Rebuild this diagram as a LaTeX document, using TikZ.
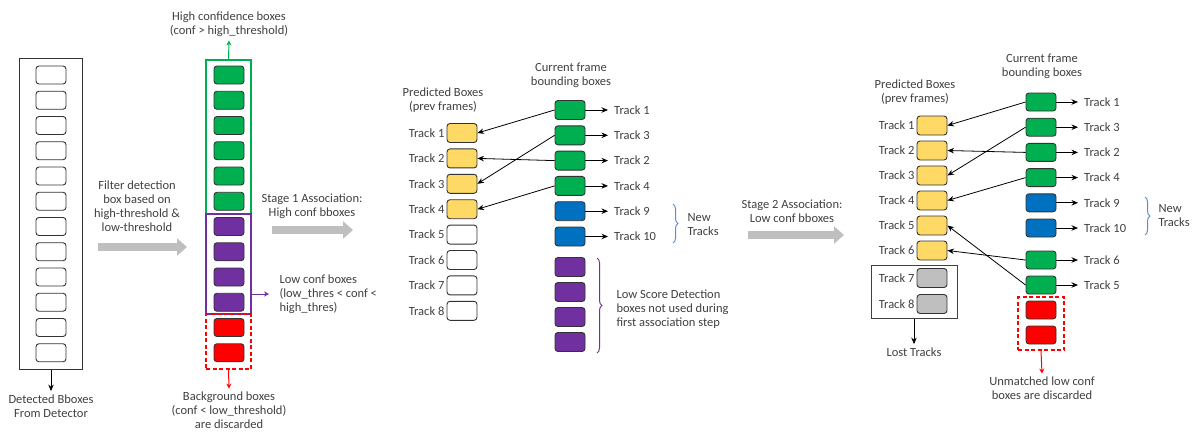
\documentclass[tikz,border=0pt]{standalone}
\usepackage{fontspec}
\setmainfont{Carlito}
\usepackage{xcolor}
\usepackage{tikz}
\usetikzlibrary{arrows.meta,positioning,fit,decorations.pathreplacing}
\definecolor{ogreen}{RGB}{0,176,80}
\definecolor{opurple}{RGB}{112,48,160}
\definecolor{oblue}{RGB}{0,112,192}
\definecolor{oyellow}{RGB}{255,217,102}
\definecolor{ogray}{RGB}{191,191,191}
\definecolor{ored}{RGB}{255,0,0}
\definecolor{braceblue}{RGB}{91,140,210}
\definecolor{txtgray}{RGB}{64,64,64}

\begin{document}
\begin{tikzpicture}[
  x=1pt, y=-1pt,
  font=\fontsize{12.5}{14}\selectfont, text=txtgray,
  bx/.style={rectangle, rounded corners=3pt, draw=black!80, line width=0.9pt,
             minimum width=30pt, minimum height=18pt, inner sep=0pt},
  wbox/.style={bx, fill=white},
  gbox/.style={bx, fill=ogreen},
  pbox/.style={bx, fill=opurple},
  rbox/.style={bx, fill=ored},
  bbox/.style={bx, fill=oblue},
  ybox/.style={bx, fill=oyellow, minimum height=19pt},
  sbox/.style={bx, fill=ogray, minimum height=19pt},
  grp/.style={rectangle, line width=1.2pt, inner sep=0pt},
  txt/.style={align=center},
  lbl/.style={inner sep=2pt},
  arr/.style={-{Stealth[length=6.5pt,width=5.5pt]}, line width=0.8pt, black},
  garr/.style={-{Stealth[length=5pt,width=5pt]}, line width=1pt, ogreen},
  parr/.style={-{Stealth[length=5pt,width=5pt]}, line width=1pt, opurple},
  rarr/.style={-{Stealth[length=5pt,width=5pt]}, line width=1pt, ored},
  bigarr/.style={-{Triangle[length=10pt,width=17pt]}, line width=7.5pt, ogray},
  brc/.style={decorate, decoration={brace, amplitude=5pt}, line width=1pt}
]
\useasboundingbox (0,0) rectangle (1194,432);

% detections from detector
\node[wbox] (d1) at (51,75) {}; \node[wbox] (d2) at (51,100.25) {};
\node[wbox] (d3) at (51,125.5) {}; \node[wbox] (d4) at (51,150.75) {};
\node[wbox] (d5) at (51,176) {}; \node[wbox] (d6) at (51,201.25) {};
\node[wbox] (d7) at (51,226.5) {}; \node[wbox] (d8) at (51,251.75) {};
\node[wbox] (d9) at (51,277) {}; \node[wbox] (d10) at (51,302.25) {};
\node[wbox] (d11) at (51,327.5) {}; \node[wbox] (d12) at (51,352.75) {};
\node[grp, draw=black!80, fit=(d1)(d12), inner xsep=16pt, inner ysep=7pt] (det) {};
\node[txt] (detlbl) at (51,406) {Detected Bboxes\\From Detector};
\draw[arr] (det.south)--(detlbl.north);

\node[txt] (filt) at (137,206.5) {Filter detection\\box based on\\high-threshold \&\\low-threshold};
\coordinate (fa) at (98,247); \coordinate (fb) at (187,247);
\draw[bigarr] (fa)--(fb);

% split by confidence
\node[gbox] (c1) at (229,75) {}; \node[gbox] (c2) at (229,100.25) {};
\node[gbox] (c3) at (229,125.5) {}; \node[gbox] (c4) at (229,150.75) {};
\node[gbox] (c5) at (229,176) {}; \node[gbox] (c6) at (229,201.25) {};
\node[pbox] (c7) at (229,226.5) {}; \node[pbox] (c8) at (229,251.75) {};
\node[pbox] (c9) at (229,277) {}; \node[pbox] (c10) at (229,302.25) {};
\node[rbox] (c11) at (229,327.5) {}; \node[rbox] (c12) at (229,352.75) {};
\node[grp, draw=ogreen, minimum width=45pt, minimum height=154pt] (hi) at (228.5,137) {};
\node[grp, draw=opurple, minimum width=45pt, minimum height=100pt] (lo) at (228.5,264) {};
\node[grp, draw=ored, dash pattern=on 4pt off 2.5pt, minimum width=45pt, minimum height=55pt] (bg) at (228.5,341.5) {};
\node[txt] (hilbl) at (229,24.5) {High confidence boxes\\(conf > high\_threshold)};
\node[txt] (bglbl) at (229,410.5) {Background boxes\\(conf < low\_threshold)\\are discarded};
\node[align=left, anchor=west] (lolbl) at (276,294) {Low conf boxes\\(low\_thres < conf <\\high\_thres)};
\draw[garr] (hi.north)--(hilbl.south);
\draw[rarr] (bg.south)--(bglbl.north);
\draw[parr, shorten >=7pt] (lo.east |- lolbl.west)--(lolbl.west);

\node[txt] (st1) at (312,206) {Stage 1 Association:\\High conf bboxes};
\coordinate (sa) at (272,230); \coordinate (sb) at (353,230);
\draw[bigarr] (sa)--(sb);

% stage 1: predicted boxes
\node[txt] (predA) at (443,100) {Predicted Boxes\\(prev frames)};
\node[ybox] (pa1) at (462,133) {}; \node[lbl, left=0pt of pa1] (lpa1) {Track 1};
\node[ybox] (pa2) at (462,158.4) {}; \node[lbl, left=0pt of pa2] (lpa2) {Track 2};
\node[ybox] (pa3) at (462,183.8) {}; \node[lbl, left=0pt of pa3] (lpa3) {Track 3};
\node[ybox] (pa4) at (462,209.2) {}; \node[lbl, left=0pt of pa4] (lpa4) {Track 4};
\node[wbox, minimum height=19pt] (pa5) at (462,234.6) {}; \node[lbl, left=0pt of pa5] (lpa5) {Track 5};
\node[wbox, minimum height=19pt] (pa6) at (462,260) {}; \node[lbl, left=0pt of pa6] (lpa6) {Track 6};
\node[wbox, minimum height=19pt] (pa7) at (462,285.4) {}; \node[lbl, left=0pt of pa7] (lpa7) {Track 7};
\node[wbox, minimum height=19pt] (pa8) at (462,310.8) {}; \node[lbl, left=0pt of pa8] (lpa8) {Track 8};

% stage 1: current frame boxes
\node[txt] (curA) at (571,75) {Current frame\\bounding boxes};
\node[gbox, minimum height=19pt] (na1) at (570,110) {};
\node[gbox, minimum height=19pt] (na2) at (570,135.3) {};
\node[gbox, minimum height=19pt] (na3) at (570,160.6) {};
\node[gbox, minimum height=19pt] (na4) at (570,185.9) {};
\node[bbox, minimum height=19pt] (na5) at (570,211.2) {};
\node[bbox, minimum height=19pt] (na6) at (570,236.5) {};
\node[pbox, minimum height=19pt] (na7) at (570,267) {};
\node[pbox, minimum height=19pt] (na8) at (570,292) {};
\node[pbox, minimum height=19pt] (na9) at (570,317) {};
\node[pbox, minimum height=19pt] (na10) at (570,342) {};
\node[lbl, anchor=west] (rna1) at (612,110) {Track 1};
\node[lbl, anchor=west] (rna2) at (612,135.3) {Track 3};
\node[lbl, anchor=west] (rna3) at (612,160.6) {Track 2};
\node[lbl, anchor=west] (rna4) at (612,185.9) {Track 4};
\node[lbl, anchor=west] (rna5) at (612,211.2) {Track 9};
\node[lbl, anchor=west] (rna6) at (612,236.5) {Track 10};
\draw[arr, shorten >=4pt] (na1.east)--(rna1.west); \draw[arr, shorten >=4pt] (na2.east)--(rna2.west);
\draw[arr, shorten >=4pt] (na3.east)--(rna3.west); \draw[arr, shorten >=4pt] (na4.east)--(rna4.west);
\draw[arr, shorten >=4pt] (na5.east)--(rna5.west); \draw[arr, shorten >=4pt] (na6.east)--(rna6.west);
\draw[arr] (na1.west)--(pa1.east); \draw[arr] (na2.west)--(pa3.east);
\draw[arr] (na3.west)--(pa2.east); \draw[arr] (na4.west)--(pa4.east);
\coordinate (ba1) at (673,204); \coordinate (ba2) at (673,243);
\draw[brc, braceblue] (ba1)--(ba2);
\node[align=left, anchor=west] (newA) at (684,225) {New\\Tracks};
\coordinate (bp1) at (597,258); \coordinate (bp2) at (597,353);
\draw[brc, opurple] (bp1)--(bp2);
\node[align=left, anchor=west] (lowA) at (613,309) {Low Score Detection\\boxes not used during\\first association step};

\node[txt] (st2) at (792,211) {Stage 2 Association:\\Low conf bboxes};
\coordinate (sc) at (748,235); \coordinate (sd) at (844,235);
\draw[bigarr] (sc)--(sd);

% stage 2: predicted boxes
\node[txt] (predB) at (915,92) {Predicted Boxes\\(prev frames)};
\node[ybox] (pb1) at (932,125.5) {}; \node[lbl, left=0pt of pb1] (lpb1) {Track 1};
\node[ybox] (pb2) at (932,150.5) {}; \node[lbl, left=0pt of pb2] (lpb2) {Track 2};
\node[ybox] (pb3) at (932,175.5) {}; \node[lbl, left=0pt of pb3] (lpb3) {Track 3};
\node[ybox] (pb4) at (932,200.5) {}; \node[lbl, left=0pt of pb4] (lpb4) {Track 4};
\node[ybox] (pb5) at (932,225.5) {}; \node[lbl, left=0pt of pb5] (lpb5) {Track 5};
\node[ybox] (pb6) at (932,250.5) {}; \node[lbl, left=0pt of pb6] (lpb6) {Track 6};
\node[sbox] (pb7) at (932,278) {}; \node[lbl, left=0pt of pb7] (lpb7) {Track 7};
\node[sbox] (pb8) at (932,304) {}; \node[lbl, left=0pt of pb8] (lpb8) {Track 8};
\node[grp, draw=black!75, line width=1pt, minimum width=86pt, minimum height=53pt] (lost) at (914,291.5) {};
\node[txt] (lostlbl) at (914,352) {Lost Tracks};
\draw[arr] (lost.south)--(lostlbl.north);

% stage 2: current frame boxes
\node[txt] (curB) at (1042,66) {Current frame\\bounding boxes};
\node[gbox] (nb1) at (1041,102) {};
\node[gbox] (nb2) at (1041,127.2) {};
\node[gbox] (nb3) at (1041,152.4) {};
\node[gbox] (nb4) at (1041,177.6) {};
\node[bbox] (nb5) at (1041,202.8) {};
\node[bbox] (nb6) at (1041,228) {};
\node[gbox] (nb7) at (1041,260) {};
\node[gbox] (nb8) at (1041,285) {};
\node[rbox] (nb9) at (1041,310) {};
\node[rbox] (nb10) at (1041,335) {};
\node[lbl, anchor=west] (rnb1) at (1082,102) {Track 1};
\node[lbl, anchor=west] (rnb2) at (1082,127.2) {Track 3};
\node[lbl, anchor=west] (rnb3) at (1082,152.4) {Track 2};
\node[lbl, anchor=west] (rnb4) at (1082,177.6) {Track 4};
\node[lbl, anchor=west] (rnb5) at (1082,202.8) {Track 9};
\node[lbl, anchor=west] (rnb6) at (1082,228) {Track 10};
\node[lbl, anchor=west] (rnb7) at (1082,260) {Track 6};
\node[lbl, anchor=west] (rnb8) at (1082,285) {Track 5};
\draw[arr, shorten >=4pt] (nb1.east)--(rnb1.west); \draw[arr, shorten >=4pt] (nb2.east)--(rnb2.west);
\draw[arr, shorten >=4pt] (nb3.east)--(rnb3.west); \draw[arr, shorten >=4pt] (nb4.east)--(rnb4.west);
\draw[arr, shorten >=4pt] (nb5.east)--(rnb5.west); \draw[arr, shorten >=4pt] (nb6.east)--(rnb6.west);
\draw[arr, shorten >=4pt] (nb7.east)--(rnb7.west); \draw[arr, shorten >=4pt] (nb8.east)--(rnb8.west);
\draw[arr] (nb1.west)--(pb1.east); \draw[arr] (nb2.west)--(pb3.east);
\draw[arr] (nb3.west)--(pb2.east); \draw[arr] (nb4.west)--(pb4.east);
\draw[arr] (nb7.west)--(pb6.east); \draw[arr] (nb8.west)--(pb5.east);
\coordinate (bb1) at (1145,197); \coordinate (bb2) at (1145,235);
\draw[brc, braceblue] (bb1)--(bb2);
\node[align=left, anchor=west] (newB) at (1155,216) {New\\Tracks};
\node[grp, draw=ored, dash pattern=on 4pt off 2.5pt, minimum width=46pt, minimum height=53pt] (unfr) at (1041,323.5) {};
\node[txt] (unm) at (1042,388.5) {Unmatched low conf\\boxes are discarded};
\draw[rarr] (unfr.south)--(unm.north);
\end{tikzpicture}
\end{document}
